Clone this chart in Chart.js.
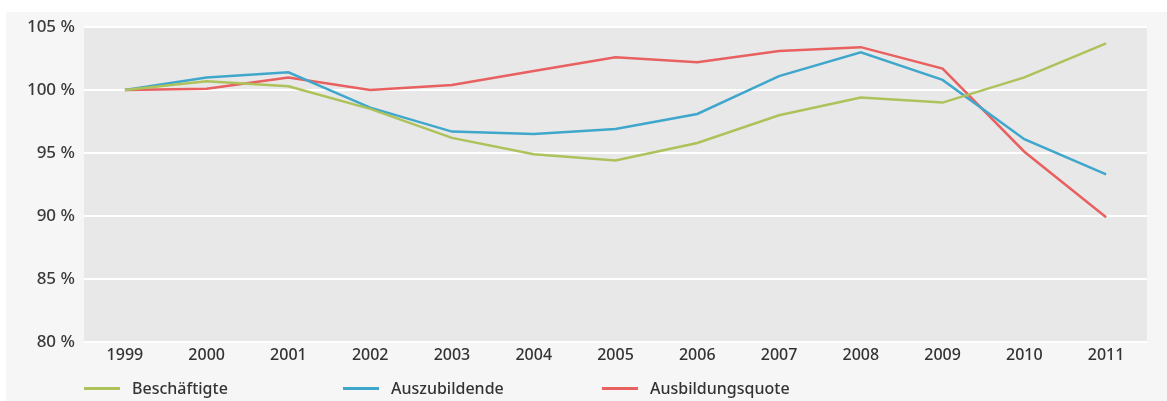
<!DOCTYPE html>
<html>
<head>
<meta charset="utf-8">
<script src="https://cdn.jsdelivr.net/npm/chart.js@4.4.1/dist/chart.umd.min.js"></script>
<style>
    html, body { margin: 0; padding: 0; background: #fff; }
    #wrap { position: relative; width: 1167px; height: 401px; overflow: hidden; }
    #grafico { position: absolute; left: 0; top: 0; }
    #legenda { position: absolute; left: 84px; top: 377px; display: flex; font-family: "Noto Sans", sans-serif; font-size: 16px; font-weight: 500; color: #333; }
    .item { width: 259px; display: flex; align-items: center; height: 22px; }
    .linha { display: inline-block; width: 36px; height: 3px; margin-right: 12px; }
</style>
</head>
<body>
<div id="wrap">
    <canvas id="grafico" width="1167" height="401"></canvas>
    <div id="legenda"></div>
</div>
<script>
const anos = ['1999', '2000', '2001', '2002', '2003', '2004', '2005', '2006', '2007', '2008', '2009', '2010', '2011'];
const beschaeftigte = [100, 100.7, 100.3, 98.5, 96.2, 94.9, 94.4, 95.8, 98.0, 99.4, 99.0, 101.0, 103.7];
const auszubildende = [100, 101.0, 101.4, 98.6, 96.7, 96.5, 96.9, 98.1, 101.1, 103.0, 100.8, 96.1, 93.3];
const ausbildungsquote = [100, 100.1, 101.0, 100.0, 100.4, 101.5, 102.6, 102.2, 103.1, 103.4, 101.7, 95.1, 89.9];
const ticksY = [80, 85, 90, 95, 100, 105];

const nomesSeries = ['Beschäftigte', 'Auszubildende', 'Ausbildungsquote'];
const coresSeries = ['#adc25a', '#3fa7cc', '#e8605f'];
const valoresSeries = [beschaeftigte, auszubildende, ausbildungsquote];

// fundo da página e da área do gráfico
const fundoPlugin = {
    id: 'fundo',
    beforeDraw(chart) {
        const ctx = chart.ctx;
        const a = chart.chartArea;
        ctx.save();
        ctx.fillStyle = '#ffffff';
        ctx.fillRect(0, 0, chart.width, chart.height);
        ctx.fillStyle = '#f6f6f6';
        ctx.fillRect(6, 12, chart.width - 6, chart.height - 12);
        ctx.fillStyle = '#e8e8e8';
        ctx.fillRect(a.left, a.top, a.right - a.left, a.bottom - a.top);
        ctx.restore();
    }
};

function montaDatasets() {
    let datasets = [];
    for (let i = 0; i < valoresSeries.length; i++) {
        datasets.push({
            label: nomesSeries[i],
            data: valoresSeries[i],
            borderColor: coresSeries[i],
            backgroundColor: coresSeries[i],
            borderWidth: 2.5,
            pointRadius: 0,
            tension: 0,
            fill: false
        });
    }
    return datasets;
}

function montaLegenda() {
    let html = '';
    for (let i = 0; i < nomesSeries.length; i++) {
        html += '<div class="item"><span class="linha" style="background:' + coresSeries[i] + '"></span>' + nomesSeries[i] + '</div>';
    }
    document.getElementById('legenda').innerHTML = html;
}

const fonteX = { family: '"Noto Sans", sans-serif', size: 16, weight: '500' };
const fonteY = { family: '"Noto Sans", sans-serif', size: 17, weight: '500' };

new Chart(document.getElementById('grafico').getContext('2d'), {
    type: 'line',
    data: { labels: anos, datasets: montaDatasets() },
    options: {
        responsive: false,
        animation: false,
        layout: { padding: { top: 27, right: 20, bottom: 30, left: 0 } },
        plugins: { legend: { display: false }, tooltip: { enabled: false } },
        scales: {
            x: {
                offset: true,
                grid: { display: false, drawTicks: false },
                border: { display: false },
                ticks: { color: '#333', font: fonteX, padding: 4, maxRotation: 0 },
                afterFit(scale) { scale.height = 29; }
            },
            y: {
                min: 80,
                max: 105,
                afterBuildTicks(scale) { scale.ticks = ticksY.map(v => ({ value: v })); },
                grid: { color: '#ffffff', lineWidth: 2, drawTicks: false },
                border: { display: false },
                ticks: {
                    color: '#3a3a3a',
                    font: fonteY,
                    padding: 9,
                    callback: v => v + ' %'
                },
                afterFit(scale) { scale.width = 84; }
            }
        }
    },
    plugins: [fundoPlugin]
});

montaLegenda();
</script>
</body>
</html>
